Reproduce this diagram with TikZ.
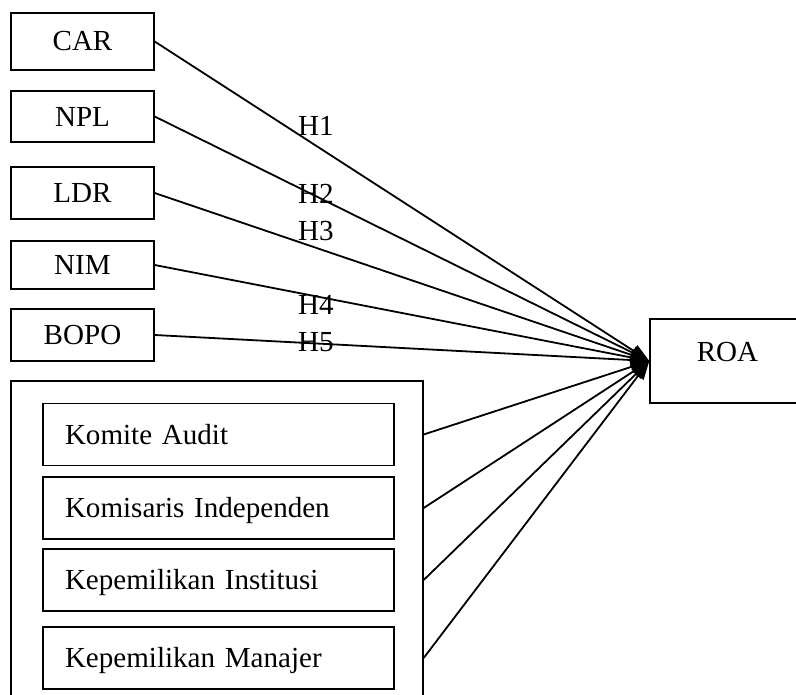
\documentclass[tikz,border=0pt]{standalone}
\usepackage{fontspec}
\setmainfont{Liberation Serif}
\usetikzlibrary{arrows.meta}
\begin{document}
\begin{tikzpicture}[x=0.75pt,y=-0.75pt,
  every node/.style={font=\fontsize{21.8pt}{26pt}\selectfont},
  varbox/.style={draw, line width=1pt, inner sep=0pt, minimum width=107.25pt},
  govbox/.style={draw, line width=1pt, inner xsep=16.5pt, inner ysep=0pt,
     text width=230.25pt, align=left, minimum height=46.5pt, text height=14.5pt, text depth=0pt},
  link/.style={line width=1.35pt, -{Triangle[length=14pt,width=10pt]}},
  hlabel/.style={inner sep=0pt}]
\useasboundingbox (0,0) rectangle (796,695);
\node[varbox, minimum height=42.75pt] (car) at (82.5,41.5) {CAR};
\node[varbox, minimum height=38.25pt] (npl) at (82.5,116.5) {NPL};
\node[varbox, minimum height=39pt] (ldr) at (82.5,193) {LDR};
\node[varbox, minimum height=36pt] (nim) at (82.5,265) {NIM};
\node[varbox, minimum height=39pt] (bopo) at (82.5,335) {BOPO};
\node[draw, line width=1pt, minimum width=116.25pt, minimum height=63pt,
      text height=15pt, text depth=14.25pt, inner sep=0pt] (roa) at (727.5,361) {ROA};
\node[draw, line width=1pt, minimum width=309pt, minimum height=255pt, inner sep=0pt] (gov) at (217,551) {};
\node[govbox] (ka) at (218.5,434.5) {Komite Audit};
\node[govbox] (ki) at (218.5,508) {Komisaris Independen};
\node[govbox] (kin) at (218.5,580) {Kepemilikan Institusi};
\node[govbox] (km) at (218.5,658) {Kepemilikan Manajer};
\coordinate (tip) at (roa.west);
\draw[link] (car.east) -- (tip);
\draw[link] (npl.east) -- (tip);
\draw[link] (ldr.east) -- (tip);
\draw[link] (nim.east) -- (tip);
\draw[link] (bopo.east) -- (tip);
\draw[link] (gov.east |- ka) -- (tip);
\draw[link] (gov.east |- ki) -- (tip);
\draw[link] (gov.east |- kin) -- (tip);
\draw[link] (gov.east |- km) -- (tip);
\node[hlabel] (h1) at (316,126) {H1};
\node[hlabel] (h2) at (316,194) {H2};
\node[hlabel] (h3) at (316,231) {H3};
\node[hlabel] (h4) at (316,305) {H4};
\node[hlabel] (h5) at (316,342) {H5};
\end{tikzpicture}
\end{document}
